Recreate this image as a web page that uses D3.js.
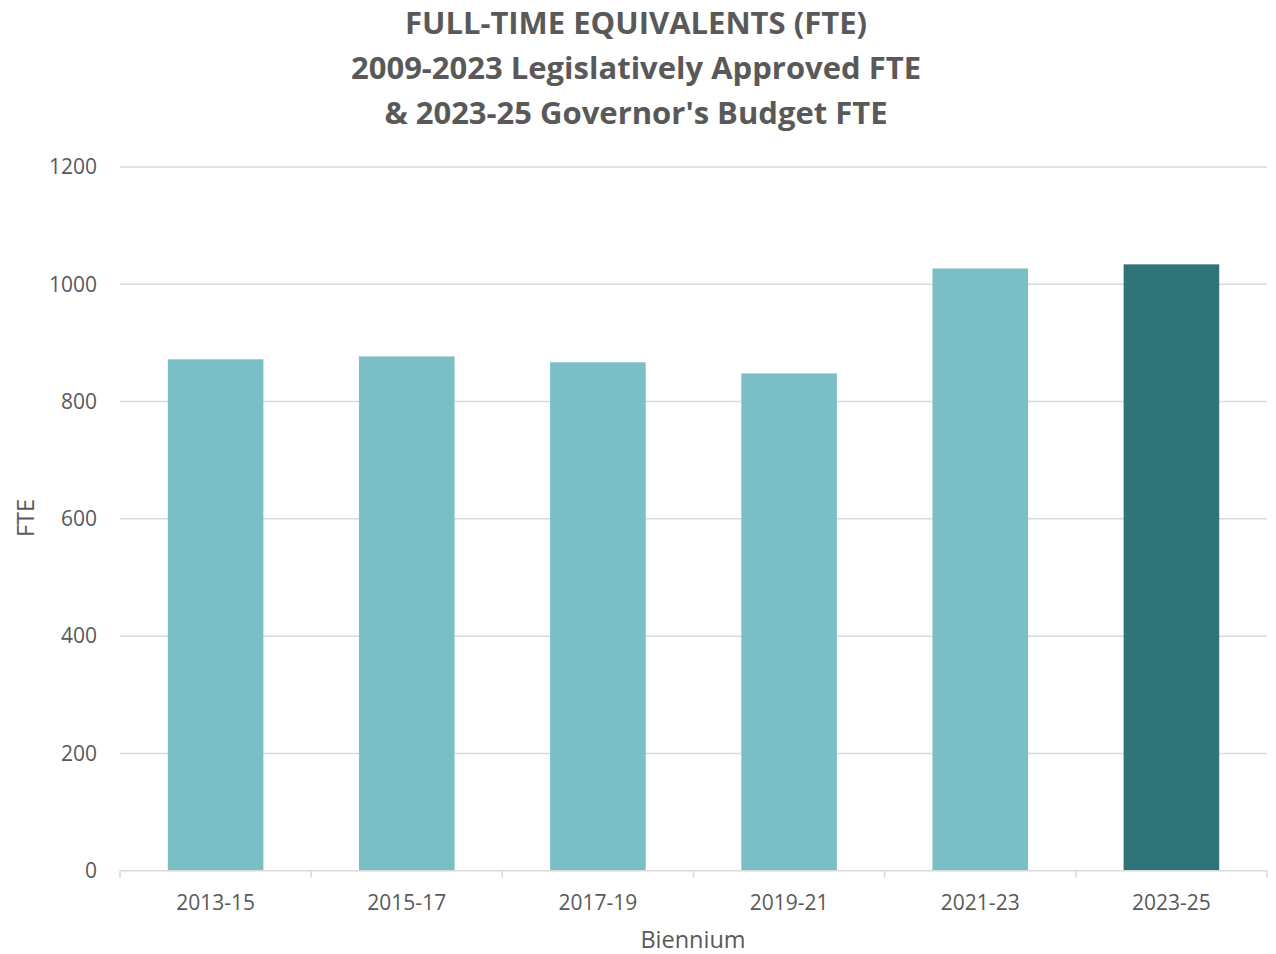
<!DOCTYPE html>
<html>
<head>
<meta charset="utf-8">
<script src="https://cdn.jsdelivr.net/npm/d3@7"></script>
<style>
  body { margin: 0; background: #fff; }
  text { font-family: "Open Sans", "Noto Sans", sans-serif; fill: #595959; }
</style>
</head>
<body>
<svg id="chart" width="1276" height="954"></svg>
<script>
const categories = ["2013-15", "2015-17", "2017-19", "2019-21", "2021-23", "2023-25"];
const fteValues = [872, 877, 867, 848, 1027, 1034];
const barKinds = ["approved", "approved", "approved", "approved", "approved", "budget"];
const yTicks = [0, 200, 400, 600, 800, 1000, 1200];
const titleLines = [
  "FULL-TIME EQUIVALENTS (FTE)",
  "2009-2023 Legislatively Approved FTE",
  "& 2023-25 Governor's Budget FTE"
];

const svg = d3.select("#chart");
const margin = { left: 120, right: 9, top: 167, bottom: 84 };
const width = 1276, height = 954;

const x = d3.scaleBand()
  .domain(categories)
  .range([margin.left, width - margin.right])
  .paddingInner(0.5)
  .paddingOuter(0.25);

const y = d3.scaleLinear()
  .domain([0, 1200])
  .range([height - margin.bottom + 0.7, margin.top]);

const color = d3.scaleOrdinal()
  .domain(["approved", "budget"])
  .range(["#7abec6", "#2e7479"]);

// gridlines
svg.append("g")
  .selectAll("line")
  .data(yTicks.filter(d => d > 0))
  .enter()
  .append("line")
  .attr("x1", margin.left)
  .attr("x2", width - margin.right)
  .attr("y1", d => y(d))
  .attr("y2", d => y(d))
  .attr("stroke", "#d9d9d9")
  .attr("stroke-width", 1.5);

// y labels
svg.append("g")
  .selectAll("text")
  .data(yTicks)
  .enter()
  .append("text")
  .attr("x", 97)
  .attr("y", d => y(d))
  .attr("dy", "0.35em")
  .attr("text-anchor", "end")
  .attr("font-size", 21)
  .text(d => d);

// bars
svg.append("g")
  .selectAll("rect")
  .data(categories)
  .enter()
  .append("rect")
  .attr("x", d => x(d))
  .attr("width", x.bandwidth())
  .attr("y", (d, i) => y(fteValues[i]))
  .attr("height", (d, i) => y(0) - y(fteValues[i]))
  .attr("fill", (d, i) => color(barKinds[i]));

// x axis
const bounds = d3.range(categories.length + 1).map(i => margin.left + i * (width - margin.right - margin.left) / categories.length);
const axis = svg.append("g");
axis.append("line")
  .attr("x1", margin.left)
  .attr("x2", width - margin.right)
  .attr("y1", y(0))
  .attr("y2", y(0))
  .attr("stroke", "#d9d9d9")
  .attr("stroke-width", 1.5);
axis.selectAll(".tick")
  .data(bounds)
  .enter()
  .append("line")
  .attr("x1", d => d)
  .attr("x2", d => d)
  .attr("y1", y(0))
  .attr("y2", y(0) + 7)
  .attr("stroke", "#d9d9d9")
  .attr("stroke-width", 1.5);
axis.selectAll("text")
  .data(categories)
  .enter()
  .append("text")
  .attr("x", d => x(d) + x.bandwidth() / 2)
  .attr("y", 910)
  .attr("text-anchor", "middle")
  .attr("font-size", 21)
  .text(d => d);

// axis titles
svg.append("text")
  .attr("x", 693)
  .attr("y", 948)
  .attr("text-anchor", "middle")
  .attr("font-size", 23.5)
  .text("Biennium");

svg.append("text")
  .attr("transform", "translate(34,518) rotate(-90)")
  .attr("text-anchor", "middle")
  .attr("font-size", 23.5)
  .text("FTE");

// title
svg.append("g")
  .selectAll("text")
  .data(titleLines)
  .enter()
  .append("text")
  .attr("x", 636)
  .attr("y", (d, i) => 34 + i * 45)
  .attr("text-anchor", "middle")
  .attr("font-size", 31)
  .attr("font-weight", "bold")
  .text(d => d);
</script>
</body>
</html>
